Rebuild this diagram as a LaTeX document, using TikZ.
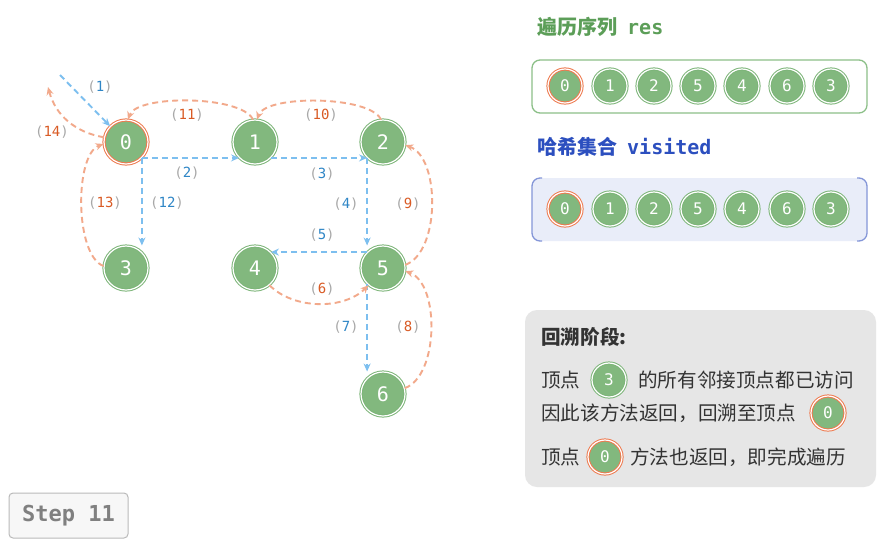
\documentclass[tikz,border=0pt]{standalone}
\usepackage{fontspec}
\setmonofont{DejaVu Sans Mono}
\newfontfamily\cjk{Noto Sans CJK SC}
\usetikzlibrary{arrows.meta,backgrounds}
\newcommand\myfs[1]{\fontsize{#1}{#1}\selectfont}
\newcommand\steplab[2]{{\color{parcol}(}{\color{#1}#2}{\color{parcol})}}
\definecolor{gfill}{HTML}{82B87E}
\definecolor{gring}{HTML}{7DB579}
\definecolor{orring}{HTML}{EE7A4F}
\definecolor{blarrow}{HTML}{7DBFEF}
\definecolor{orarrow}{HTML}{F2A98B}
\definecolor{bllab}{HTML}{2F86C6}
\definecolor{orlab}{HTML}{D95B25}
\definecolor{parcol}{HTML}{A8A8A8}
\definecolor{edgecol}{HTML}{808080}
\definecolor{tgreen}{HTML}{5C9E58}
\definecolor{tblue}{HTML}{2C4FBF}
\definecolor{vfill}{HTML}{E9EDF9}
\definecolor{vborder}{HTML}{8496D8}
\definecolor{gbox}{HTML}{8CC088}
\definecolor{panel}{HTML}{E6E6E6}
\definecolor{txt}{HTML}{333333}
\begin{document}
\begin{tikzpicture}[x=1pt,y=1pt,
  gnode/.style={circle, minimum size=44pt, inner sep=0pt, fill=gfill, draw=gring,
    double=white, double distance=1.2pt, line width=1pt, text=white, font=\ttfamily\myfs{20}},
  onode/.style={gnode, draw=orring},
  pnode/.style={gnode, minimum size=34pt, font=\ttfamily\myfs{16}},
  ponode/.style={pnode, draw=orring},
  edge/.style={edgecol, line width=2.6pt},
  varrow/.style={blarrow, line width=1.9pt, dash pattern=on 6pt off 4pt, -{Stealth[length=8pt,width=7pt]}},
  rarrow/.style={orarrow, line width=1.9pt, dash pattern=on 6pt off 4pt, -{Stealth[length=8pt,width=7pt]}},
  lbl/.style={font=\ttfamily\myfs{14}, inner sep=0pt},
  ptxt/.style={font=\cjk\myfs{19.6}, text=txt, anchor=west, inner sep=0pt}
]
\useasboundingbox (0,0) rectangle (880,-542);
\fill[white] (0,0) rectangle (880,-542);

% graph nodes
\node[onode] (n0) at (126,-142) {0};
\node[gnode] (n1) at (255,-142) {1};
\node[gnode] (n2) at (383,-142) {2};
\node[gnode] (n3) at (126,-268) {3};
\node[gnode] (n4) at (255,-268) {4};
\node[gnode] (n5) at (383,-268) {5};
\node[gnode] (n6) at (383,-394) {6};

\begin{scope}[on background layer]
\draw[edge] (n0) -- (n1);
\draw[edge] (n1) -- (n2);
\draw[edge] (n0) -- (n3);
\draw[edge] (n2) -- (n5);
\draw[edge] (n4) -- (n5);
\draw[edge] (n5) -- (n6);
\end{scope}

% visit arrows
\coordinate (s1) at (60,-75);
\coordinate (e14) at (48,-87);
\draw[varrow] (s1) -- (n0.135);
\draw[varrow] (n0.-45) -- (n0.-45 -| n1.-135);
\draw[varrow] (n0.-45) -- (n0.-45 |- n3.north);
\draw[varrow] (n1.-45) -- (n1.-45 -| n2.-135);
\draw[varrow] (n1.-45 -| n2.-135) -- (n2.-135 |- n5.north);
\draw[varrow] (n5.135) -- (n4.45);
\draw[varrow] (n5.-135) -- (n5.-135 |- n6.north);

% return arrows
\draw[rarrow] (n4.-50) to[out=-45,in=-135,looseness=0.9] (n5.-130);
\draw[rarrow] (n6.15) to[out=20,in=-20,looseness=0.8] (n5.-8);
\draw[rarrow] (n5.8) to[out=20,in=-20,looseness=0.8] (n2.-8);
\draw[rarrow] (n2.95) to[out=115,in=70,looseness=0.55] (n1.85);
\draw[rarrow] (n1.95) to[out=115,in=70,looseness=0.55] (n0.85);
\draw[rarrow] (n3.175) to[out=160,in=-160,looseness=0.65] (n0.185);
\draw[rarrow] (n0.168) to[out=170,in=-75] (e14);

% step labels
\node[lbl] (l1) at (100,-87) {\steplab{bllab}{1}};
\node[lbl] (l2) at (187,-173) {\steplab{bllab}{2}};
\node[lbl] (l3) at (322,-174) {\steplab{bllab}{3}};
\node[lbl] (l4) at (346,-204) {\steplab{bllab}{4}};
\node[lbl] (l5) at (322,-235) {\steplab{bllab}{5}};
\node[lbl] (l6) at (322,-289) {\steplab{orlab}{6}};
\node[lbl] (l7) at (346,-327) {\steplab{bllab}{7}};
\node[lbl] (l8) at (408,-327) {\steplab{orlab}{8}};
\node[lbl] (l9) at (408,-204) {\steplab{orlab}{9}};
\node[lbl] (l10) at (321,-115) {\steplab{orlab}{10}};
\node[lbl] (l11) at (187,-115) {\steplab{orlab}{11}};
\node[lbl] (l12) at (167,-203) {\steplab{bllab}{12}};
\node[lbl] (l13) at (105,-203) {\steplab{orlab}{13}};
\node[lbl] (l14) at (52,-132) {\steplab{orlab}{14}};

% right panel: res
\node[anchor=west, inner sep=0pt, text=tgreen] (t1) at (537,-27)
  {{\cjk\bfseries\myfs{20}遍历序列}\hspace{10pt}{\ttfamily\bfseries\myfs{20}res}};
\draw[gbox, line width=1.3pt, fill=white, rounded corners=8pt] (532,-60) rectangle (867,-113);
\node[ponode] (r0) at (565,-86) {0};
\node[pnode] (r1) at (610,-86) {1};
\node[pnode] (r2) at (654,-86) {2};
\node[pnode] (r3) at (698,-86) {5};
\node[pnode] (r4) at (742,-86) {4};
\node[pnode] (r5) at (787,-86) {6};
\node[pnode] (r6) at (831,-86) {3};

% visited
\node[anchor=west, inner sep=0pt, text=tblue] (t2) at (537,-147)
  {{\cjk\bfseries\myfs{20}哈希集合}\hspace{10pt}{\ttfamily\bfseries\myfs{20}visited}};
\fill[vfill, rounded corners=8pt] (532,-178) rectangle (867,-241);
\draw[vborder, line width=1.3pt, rounded corners=8pt] (542,-178) -- (532,-178) -- (532,-241) -- (542,-241);
\draw[vborder, line width=1.3pt, rounded corners=8pt] (857,-178) -- (867,-178) -- (867,-241) -- (857,-241);
\node[ponode] (v0) at (565,-209) {0};
\node[pnode] (v1) at (610,-209) {1};
\node[pnode] (v2) at (654,-209) {2};
\node[pnode] (v3) at (698,-209) {5};
\node[pnode] (v4) at (742,-209) {4};
\node[pnode] (v5) at (787,-209) {6};
\node[pnode] (v6) at (831,-209) {3};

% explanation panel
\fill[panel, rounded corners=12pt] (525,-310) rectangle (876,-487);
\node[ptxt, font=\cjk\bfseries\myfs{19.6}] (h) at (541,-337) {回溯阶段:};
\node[ptxt] (a1) at (541,-380) {顶点};
\node[pnode] (c3) at (609,-380) {3};
\node[ptxt] (a2) at (638,-380) {的所有邻接顶点都已访问};
\node[ptxt] (b1) at (541,-413) {因此该方法返回，回溯至顶点};
\node[ponode] (c0a) at (828,-413) {0};
\node[ptxt] (d1) at (541,-457) {顶点};
\node[ponode] (c0b) at (605,-457) {0};
\node[ptxt] (d2) at (630,-457) {方法也返回，即完成遍历};

% step box
\draw[fill=black!3, draw=black!27, line width=1pt, rounded corners=4pt] (9,-493) rectangle (128,-538);
\node[font=\ttfamily\bfseries\myfs{22}, text=black!50] (st) at (68.5,-515.5) {Step 11};
\end{tikzpicture}
\end{document}
